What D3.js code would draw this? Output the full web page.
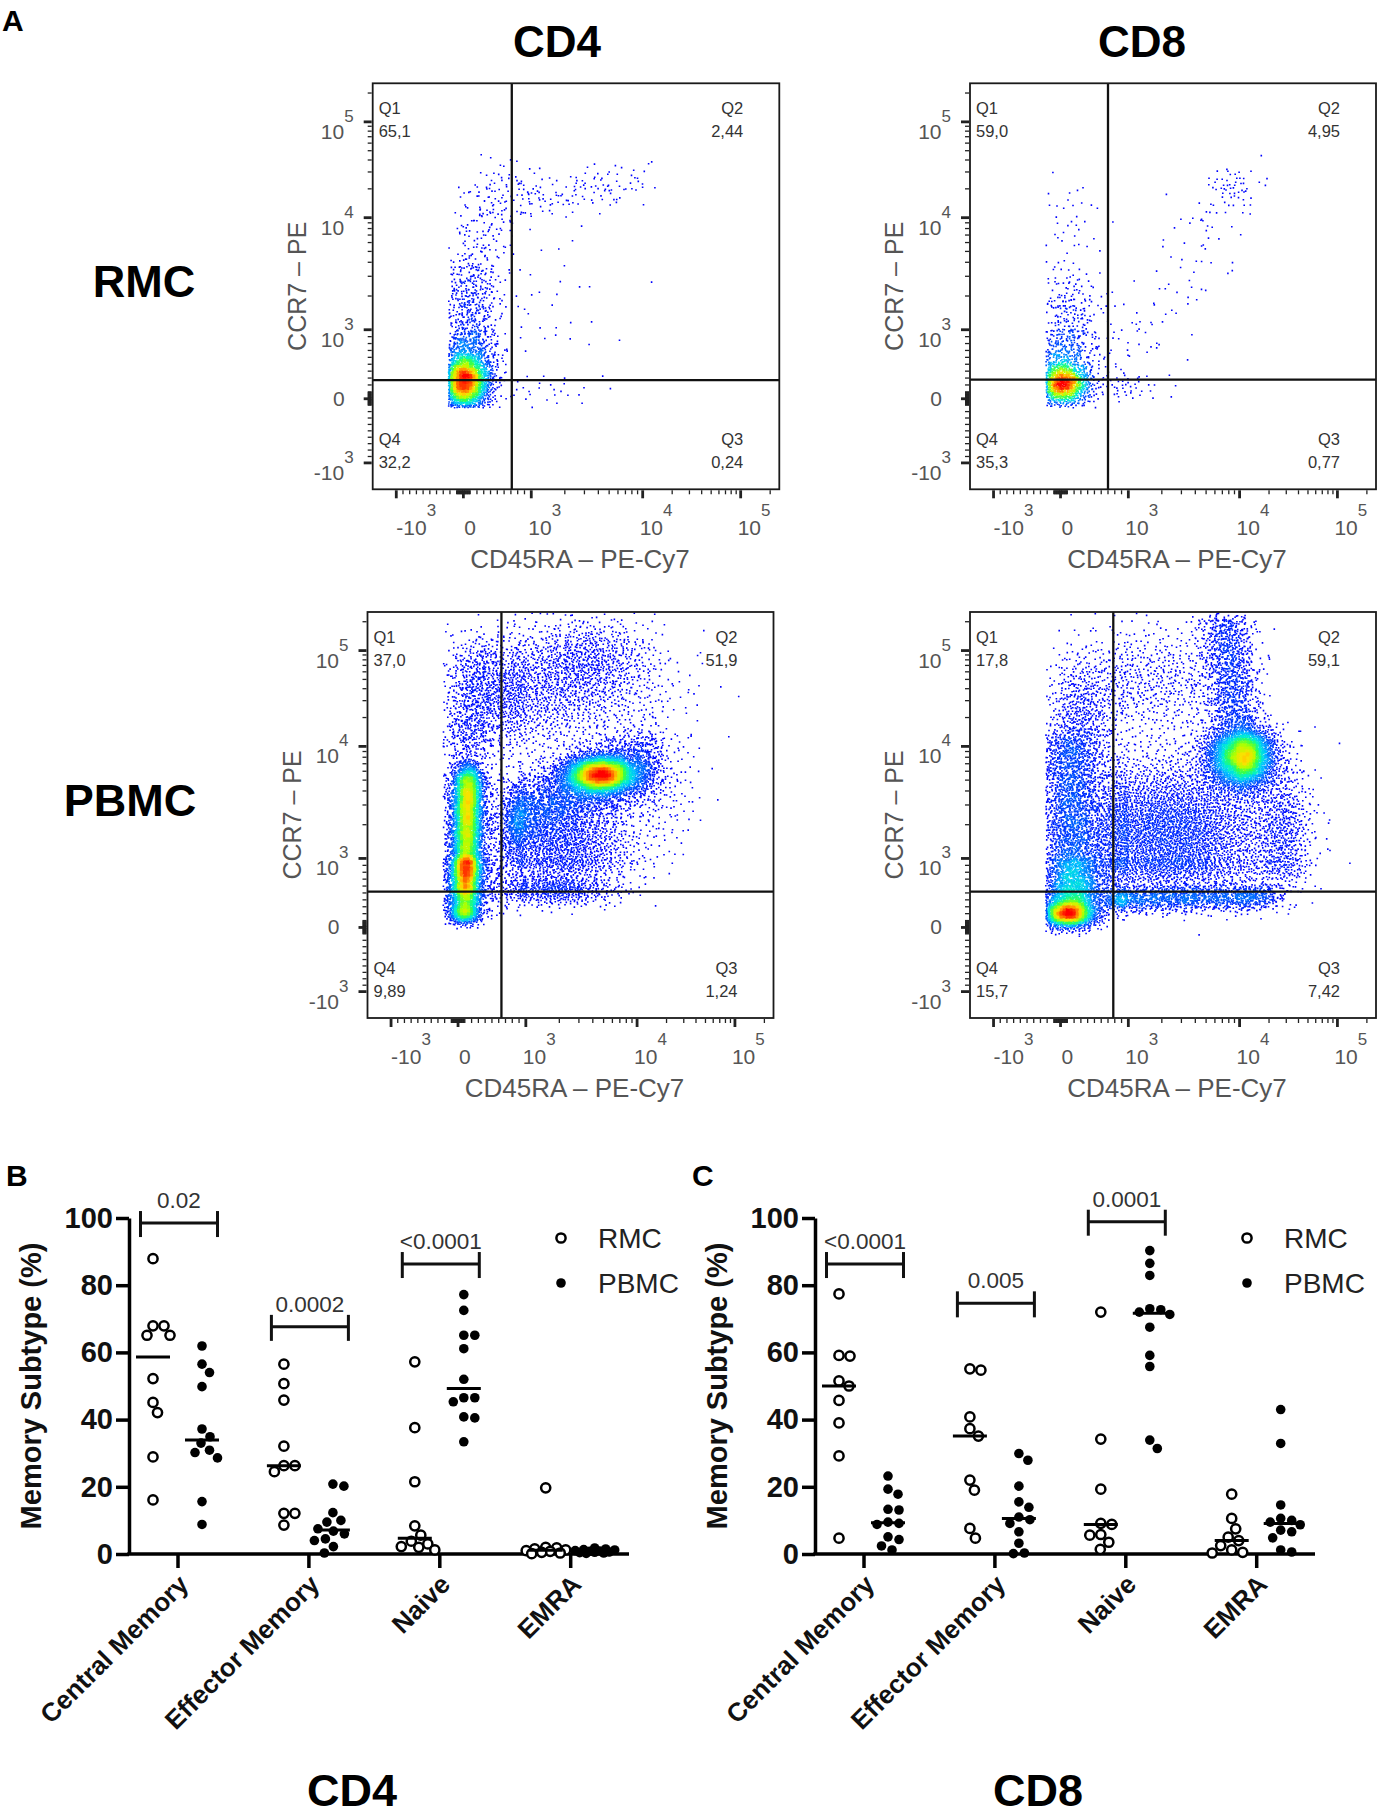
<!DOCTYPE html>
<html><head><meta charset="utf-8">
<script src="https://cdn.jsdelivr.net/npm/d3@7"></script>
<style>
body{margin:0;background:#fff}
svg{display:block}
text{font-family:"Liberation Sans",Arial,Helvetica,sans-serif}
</style></head>
<body><svg id="fig" width="1385" height="1815"></svg>
<script>
// ================= DATA =================
// Panel A : flow cytometry (CCR7 vs CD45RA)
const flowColumns = ["CD4", "CD8"];
const flowRows = ["RMC", "PBMC"];
const quadrantNames = ["Q1", "Q2", "Q3", "Q4"];
const quadrantCD4RMC  = ["65,1", "2,44", "0,24", "32,2"];
const quadrantCD8RMC  = ["59,0", "4,95", "0,77", "35,3"];
const quadrantCD4PBMC = ["37,0", "51,9", "1,24", "9,89"];
const quadrantCD8PBMC = ["17,8", "59,1", "7,42", "15,7"];
// quadrant gates [CD45RA, CCR7] in fluorescence units
const gateCD4RMC  = [713, 270];
const gateCD8RMC  = [700, 276];
const gateCD4PBMC = [640, 518];
const gateCD8PBMC = [778, 518];
const flowMajorTicks = [-1000, 0, 1000, 10000, 100000];
const flowMajorLabels = [["-10", "3"], ["0", ""], ["10", "3"], ["10", "4"], ["10", "5"]];
const flowXTitle = "CD45RA \u2013 PE-Cy7";
const flowYTitle = "CCR7 \u2013 PE";
// event populations:
// [CD45RA start, CCR7 start, CD45RA end, CCR7 end, spread x (decades), spread y (decades), events, skew]
const eventsCD4RMC = [
  [18, 210, 18, 210, 0.2, 0.2, 1800, 1],
  [36, 370, 120, 3490, 0.22, 0.12, 1100, 1.6],
  [120, 3490, 575, 26900, 0.25, 0.15, 180, 1],
  [820, 14800, 9660, 24300, 0.12, 0.12, 130, 1],
  [1260, 1700, 1260, 1700, 0.35, 0.35, 35, 1],
  [1410, 118, 1410, 118, 0.25, 0.12, 25, 1]
];
const eventsCD8RMC = [
  [34, 200, 34, 200, 0.22, 0.16, 1000, 1],
  [34, 370, 120, 2450, 0.25, 0.12, 600, 1.5],
  [120, 7160, 120, 7160, 0.25, 0.3, 50, 1],
  [800, 370, 10700, 26900, 0.2, 0.15, 110, 0.9],
  [8300, 20600, 8300, 20600, 0.1, 0.1, 40, 1],
  [976, 165, 976, 165, 0.2, 0.1, 40, 1]
];
const eventsCD4PBMC = [
  [100, 250, 150, 6000, 0.12, 0.08, 5500, 0.75],
  [110, 300, 160, 5000, 0.32, 0.12, 1300, 1],
  [96, 200, 96, 200, 0.13, 0.08, 500, 1],
  [740, 2070, 14400, 7460, 0.1, 0.17, 3000, 1],
  [4680, 5620, 4680, 5620, 0.17, 0.09, 3000, 1],
  [3680, 83200, 3680, 83200, 0.3, 0.22, 600, 1],
  [1110, 35900, 1110, 35900, 0.6, 0.32, 1600, 1],
  [140, 9060, 317, 109600, 0.22, 0.1, 600, 1.3],
  [2090, 1350, 2090, 1350, 0.35, 0.22, 1500, 1],
  [1800, 550, 1800, 550, 0.3, 0.12, 600, 1],
  [18600, 4370, 18600, 4370, 0.2, 0.3, 150, 1]
];
const eventsCD8PBMC = [
  [120, 200, 120, 200, 0.22, 0.11, 1600, 1],
  [200, 370, 120, 11800, 0.25, 0.1, 3400, 1.3],
  [10700, 8050, 10700, 8050, 0.17, 0.15, 3000, 1],
  [9330, 15500, 7400, 220000, 0.13, 0.06, 1100, 1],
  [2240, 1700, 2240, 1700, 0.5, 0.35, 4000, 1],
  [720, 400, 21400, 450, 0.1, 0.1, 1400, 1],
  [290, 20600, 290, 20600, 0.25, 0.35, 600, 1],
  [1760, 47900, 1760, 47900, 0.4, 0.3, 600, 1],
  [27800, 1700, 27800, 1700, 0.15, 0.35, 600, 1]
];

// Panels B and C : memory subsets (%)
const subsetCategories = ["Central Memory", "Effector Memory", "Naive", "EMRA"];
const sampleGroups = ["RMC", "PBMC"];
const memoryTicks = [0, 20, 40, 60, 80, 100];
const cd4RMC = [
  [87.9, 67.9, 67.9, 65.1, 65.1, 52.2, 45.1, 42.1, 28.9, 16.1],
  [56.5, 50.7, 45.8, 32.1, 26.3, 26.3, 24.5, 12.1, 12.1, 8.6],
  [57.2, 37.6, 21.5, 8.4, 5.6, 3.8, 3.0, 2.2, 2.0, 1.2],
  [19.7, 2.0, 1.8, 1.5, 1.2, 1.0, 0.8, 0.5, 0.3, 0.1]
];
const cd4PBMC = [
  [61.9, 56.5, 54.0, 49.8, 37.2, 34.9, 33.0, 30.9, 30.2, 28.6, 15.6, 8.8],
  [20.8, 20.2, 12.3, 10.0, 9.5, 7.5, 6.8, 6.0, 4.5, 4.0, 2.2, 0.3],
  [77.2, 72.5, 65.1, 65.1, 61.1, 52.0, 46.5, 46.5, 45.3, 40.8, 40.5, 33.4],
  [1.8, 1.5, 1.3, 1.2, 1.0, 0.9, 0.8, 0.6, 0.5, 0.4, 0.3, 0.2]
];
const cd8RMC = [
  [77.4, 59.1, 58.9, 51.5, 50.0, 45.7, 39.0, 29.2, 4.7],
  [55.1, 54.7, 40.8, 37.3, 35.1, 22.0, 19.0, 7.6, 4.7],
  [72.0, 34.2, 19.3, 9.1, 8.8, 5.8, 5.6, 3.5, 1.4],
  [17.8, 10.6, 7.5, 5.0, 4.0, 2.5, 1.2, 0.5, 0.3]
];
const cd8PBMC = [
  [23.2, 19.3, 17.8, 13.3, 13.1, 9.5, 9.1, 8.8, 5.1, 4.3, 2.4, 1.2],
  [29.9, 27.9, 20.2, 15.5, 13.9, 11.0, 10.2, 9.1, 6.6, 3.2, 0.3, 0.1],
  [90.3, 86.5, 82.9, 73.0, 72.7, 72.0, 71.3, 67.5, 59.1, 55.8, 33.9, 31.4],
  [43.0, 32.9, 14.6, 10.6, 10.0, 9.5, 8.7, 7.1, 6.6, 4.8, 1.2, 0.6]
];
const cd4PValues = ["0.02", "0.0002", "<0.0001"];
const cd4BracketLevels = [98.5, 67.6, 86.3];
const cd8PValues = ["<0.0001", "0.005", "0.0001"];
const cd8BracketLevels = [86.3, 74.6, 98.9];

// ================= DRAWING =================
const svg = d3.select("#fig");
const BOLD = "bold";

// --- biexponential display transform (linear around zero, log above 10^3)
function biex(v) { const a = Math.abs(v); return a <= 1000 ? v / 1000 : Math.sign(v) * (1 + Math.log10(a / 1000)); }
const bDomain = [-1, 0, 1, 2, 3, 4];
const xFrac = [0.058, 0.223, 0.390, 0.664, 0.905, 1.146];
const yFrac = [0.935, 0.777, 0.607, 0.331, 0.095, -0.141];

function halton(i, b) { let f = 1, r = 0; while (i > 0) { f /= b; r += f * (i % b); i = Math.floor(i / b); } return r; }
function spreadEvents(pops) {
  const ev = [];
  pops.forEach((p, k) => {
    const [x1, y1, x2, y2, sdx, sdy, n, pw] = p;
    const bx1 = biex(x1), by1 = biex(y1), bx2 = biex(x2), by2 = biex(y2);
    for (let i = 0; i < n; i++) {
      const j = i + 1 + k * 4099;
      const u1 = Math.max(1e-7, halton(j, 2)), u2 = halton(j, 3);
      const rr = Math.sqrt(-2 * Math.log(u1));
      const g1 = rr * Math.cos(2 * Math.PI * u2), g2 = rr * Math.sin(2 * Math.PI * u2);
      const t = Math.pow(halton(j, 5), pw);
      ev.push([bx1 + t * (bx2 - bx1) + sdx * g1, by1 + t * (by2 - by1) + sdy * g2]);
    }
  });
  return ev;
}
const densityColor = d3.piecewise(d3.interpolateRgb,
  ["#0000ff", "#0008ff", "#0030ff", "#0070ff", "#00c0ff", "#00f0d0", "#30ff50", "#b0ff00", "#ffe000", "#ff7000", "#ff0000"]);

let clipCount = 0;
function flowPanel(frame, pops, gate, quads) {
  const g = svg.append("g");
  const bx = d3.scaleLinear().domain(bDomain).range(xFrac.map(f => frame.x + f * frame.w));
  const by = d3.scaleLinear().domain(bDomain).range(yFrac.map(f => frame.y + f * frame.h));
  const X = v => bx(biex(v)), Y = v => by(biex(v));
  const id = "clip" + (clipCount++);
  g.append("clipPath").attr("id", id).append("rect")
    .attr("x", frame.x).attr("y", frame.y).attr("width", frame.w).attr("height", frame.h);

  // events
  const pts = [];
  spreadEvents(pops).forEach(e => {
    if (e[0] < -0.22 || e[1] < -0.14) return;
    const px = bx(e[0]), py = by(e[1]);
    if (px < frame.x + 1 || px > frame.x + frame.w - 2 || py < frame.y + 1 || py > frame.y + frame.h - 2) return;
    pts.push({px, py});
  });
  const cell = 3, gw = Math.ceil(frame.w / cell) + 2, gh = Math.ceil(frame.h / cell) + 2;
  const grid = new Float32Array(gw * gh);
  pts.forEach(p => { p.i = Math.floor((p.px - frame.x) / cell); p.j = Math.floor((p.py - frame.y) / cell); grid[p.j * gw + p.i]++; });
  const sm = new Float32Array(gw * gh);
  for (let j = 1; j < gh - 1; j++) for (let i = 1; i < gw - 1; i++) {
    let s = 0; for (let dj = -1; dj <= 1; dj++) for (let di = -1; di <= 1; di++) s += grid[(j + dj) * gw + i + di];
    sm[j * gw + i] = s;
  }
  let mx = 0; for (let k = 0; k < sm.length; k++) if (sm[k] > mx) mx = sm[k];
  const L = 44, levels = Array.from({length: L}, () => []);
  pts.forEach(p => {
    const t = Math.pow(sm[p.j * gw + p.i] / mx, 0.8);
    levels[Math.min(L - 1, Math.floor(t * L))].push(p);
  });
  const dots = g.append("g").attr("clip-path", `url(#${id})`);
  levels.forEach((arr, k) => {
    if (!arr.length) return;
    let d = "";
    arr.forEach(p => { d += `M${(p.px - 0.8).toFixed(1)},${(p.py - 0.8).toFixed(1)}h1.6v1.6h-1.6z`; });
    dots.append("path").attr("d", d).attr("fill", densityColor(k / (L - 1)));
  });

  // gates
  g.append("line").attr("x1", X(gate[0])).attr("x2", X(gate[0])).attr("y1", frame.y).attr("y2", frame.y + frame.h)
    .attr("stroke", "#111").attr("stroke-width", 2.3);
  g.append("line").attr("x1", frame.x).attr("x2", frame.x + frame.w).attr("y1", Y(gate[1])).attr("y2", Y(gate[1]))
    .attr("stroke", "#111").attr("stroke-width", 2.3);
  // frame
  g.append("rect").attr("x", frame.x).attr("y", frame.y).attr("width", frame.w).attr("height", frame.h)
    .attr("fill", "none").attr("stroke", "#1a1a1a").attr("stroke-width", 1.8);

  // quadrant labels
  const qs = 16.5, qc = "#333";
  const qpos = [
    {x: frame.x + 6, y: frame.y + 31, a: "start"},
    {x: frame.x + frame.w - 36, y: frame.y + 31, a: "end"},
    {x: frame.x + frame.w - 36, y: frame.y + frame.h - 44, a: "end"},
    {x: frame.x + 6, y: frame.y + frame.h - 44, a: "start"}
  ];
  quadrantNames.forEach((q, k) => {
    g.append("text").attr("x", qpos[k].x).attr("y", qpos[k].y).attr("text-anchor", qpos[k].a)
      .attr("font-size", qs).attr("fill", qc).text(q);
    g.append("text").attr("x", qpos[k].x).attr("y", qpos[k].y + 23).attr("text-anchor", qpos[k].a)
      .attr("font-size", qs).attr("fill", qc).text(quads[k]);
  });

  // ticks
  const minor = [...d3.range(-900, 0, 100), ...d3.range(-90, 0, 10), ...d3.range(10, 100, 10), ...d3.range(100, 1000, 100),
    ...d3.range(2000, 10000, 1000), ...d3.range(20000, 100000, 10000), 200000];
  const bot = frame.y + frame.h, left = frame.x;
  const tg = g.append("g").attr("stroke", "#222");
  minor.forEach(v => {
    tg.append("line").attr("x1", X(v)).attr("x2", X(v)).attr("y1", bot + 1).attr("y2", bot + 5).attr("stroke-width", 1.3);
    tg.append("line").attr("y1", Y(v)).attr("y2", Y(v)).attr("x1", left - 1).attr("x2", left - 5).attr("stroke-width", 1.3);
  });
  flowMajorTicks.forEach(v => {
    tg.append("line").attr("x1", X(v)).attr("x2", X(v)).attr("y1", bot + 1).attr("y2", bot + 9).attr("stroke-width", 2.8);
    tg.append("line").attr("y1", Y(v)).attr("y2", Y(v)).attr("x1", left - 1).attr("x2", left - 9).attr("stroke-width", 2.8);
  });
  const lc = "#555";
  flowMajorTicks.forEach((v, k) => {
    const [base, ex] = flowMajorLabels[k];
    // x axis
    const neg = base.startsWith("-");
    const tx = g.append("text").attr("fill", lc).attr("font-size", 21)
      .attr("x", ex ? X(v) - (neg ? 0 : 3) : X(v) + 1).attr("y", bot + 46).attr("text-anchor", "start");
    tx.append("tspan").text(base);
    if (ex) tx.append("tspan").attr("dy", -19).attr("font-size", 17).text(ex);
    // y axis
    const ty = g.append("text").attr("fill", lc).attr("font-size", 21).attr("text-anchor", "end")
      .attr("x", ex ? left - 19 : left - 28).attr("y", ex ? Y(v) + 17 : Y(v) + 7);
    ty.append("tspan").text(base);
    if (ex) ty.append("tspan").attr("dy", -17).attr("font-size", 17).text(ex);
  });
  g.append("text").attr("x", frame.x + frame.w / 2 + 4).attr("y", bot + 79).attr("text-anchor", "middle")
    .attr("font-size", 26).attr("fill", lc).text(flowXTitle);
  g.append("text").attr("transform", `translate(${frame.x - 67},${frame.y + frame.h / 2}) rotate(-90)`)
    .attr("text-anchor", "middle").attr("font-size", 25).attr("fill", lc).text(flowYTitle);
}

// panel A labels
svg.append("text").attr("x", 2).attr("y", 31).attr("font-size", 30).attr("font-weight", BOLD).text("A");
svg.append("text").attr("x", 557).attr("y", 57).attr("text-anchor", "middle").attr("font-size", 44).attr("font-weight", BOLD).text(flowColumns[0]);
svg.append("text").attr("x", 1142).attr("y", 57).attr("text-anchor", "middle").attr("font-size", 44).attr("font-weight", BOLD).text(flowColumns[1]);
svg.append("text").attr("x", 144).attr("y", 297).attr("text-anchor", "middle").attr("font-size", 45).attr("font-weight", BOLD).text(flowRows[0]);
svg.append("text").attr("x", 130).attr("y", 816).attr("text-anchor", "middle").attr("font-size", 45).attr("font-weight", BOLD).text(flowRows[1]);

flowPanel({x: 372.7, y: 83.3, w: 406.6, h: 406}, eventsCD4RMC, gateCD4RMC, quadrantCD4RMC);
flowPanel({x: 970, y: 83.3, w: 406, h: 406}, eventsCD8RMC, gateCD8RMC, quadrantCD8RMC);
flowPanel({x: 367.5, y: 612, w: 406, h: 406}, eventsCD4PBMC, gateCD4PBMC, quadrantCD4PBMC);
flowPanel({x: 970, y: 612, w: 406, h: 406}, eventsCD8PBMC, gateCD8PBMC, quadrantCD8PBMC);

// --- beeswarm layout
function swarm(ys, D, maxOff) {
  const placed = [];
  const order = ys.map((v, i) => i).sort((a, b) => ys[a] - ys[b]);
  const offs = new Array(ys.length);
  const cands = [0];
  for (let s = 0.5; s <= maxOff; s += 0.5) { cands.push(s, -s); }
  order.forEach(i => {
    const y = ys[i];
    let best = null, bestScore = -1;
    for (const c of cands) {
      let md = Infinity;
      for (const p of placed) { const d = Math.hypot(c - p[0], y - p[1]); if (d < md) md = d; }
      if (md >= D) { best = c; bestScore = Infinity; break; }
      if (md > bestScore + 0.5) { bestScore = md; best = c; }
    }
    offs[i] = best; placed.push([best, y]);
  });
  return offs;
}

function memoryChart(left, axisX, rmc, pbmc, pvals, levels, letter, title) {
  const g = svg.append("g");
  const y0 = 1554, y100 = 1218;
  const y = d3.scaleLinear().domain([0, 100]).range([y0, y100]);
  const x = d3.scalePoint().domain(subsetCategories).range([left + 56.5, left + 56.5 + 3 * 130.9]);
  const gx = d3.scalePoint().domain(sampleGroups).range([-24.5, 24.5]);
  const xEnd = left + 508;

  // y axis
  const ya = g.append("g").attr("transform", `translate(${axisX},0)`)
    .call(d3.axisLeft(y).tickValues(memoryTicks).tickSize(13).tickSizeOuter(0).tickPadding(3));
  ya.selectAll("path,line").attr("stroke", "#000").attr("stroke-width", 3.5);
  ya.selectAll("text").attr("font-size", 29).attr("font-weight", BOLD).attr("fill", "#111")
    .style("font-family", '"Liberation Sans",Arial,sans-serif');
  // x axis
  const xa = g.append("g").attr("transform", `translate(0,${y0})`)
    .call(d3.axisBottom(x).tickSize(14).tickSizeOuter(0));
  xa.select(".domain").remove();
  xa.selectAll("line").attr("stroke", "#000").attr("stroke-width", 3.5);
  xa.selectAll("text").attr("x", 0).attr("y", 0).attr("dy", 0).attr("text-anchor", "end")
    .attr("transform", "translate(12,32) rotate(-45)")
    .attr("font-size", 26).attr("font-weight", BOLD).attr("fill", "#111")
    .style("font-family", '"Liberation Sans",Arial,sans-serif');
  g.append("line").attr("x1", axisX - 1.75).attr("x2", xEnd).attr("y1", y0).attr("y2", y0)
    .attr("stroke", "#000").attr("stroke-width", 3.5);

  // points
  const sets = [rmc, pbmc];
  subsetCategories.forEach((cat, ci) => {
    sampleGroups.forEach((grp, gi) => {
      const vals = sets[gi][ci];
      const ys = vals.map(v => y(v));
      const offs = swarm(ys, 11, 20);
      const cx = x(cat) + gx(grp);
      const pg = g.append("g");
      vals.forEach((v, k) => {
        if (gi === 0) pg.append("circle").attr("cx", cx + offs[k]).attr("cy", y(v)).attr("r", 4.6)
          .attr("fill", "#fff").attr("stroke", "#000").attr("stroke-width", 2.5);
        else pg.append("circle").attr("cx", cx + offs[k]).attr("cy", y(v)).attr("r", 4.8).attr("fill", "#000");
      });
      const med = d3.median(vals);
      g.append("line").attr("x1", cx - 17).attr("x2", cx + 17).attr("y1", y(med)).attr("y2", y(med))
        .attr("stroke", "#000").attr("stroke-width", 3);
    });
  });

  // significance brackets
  pvals.forEach((p, k) => {
    const cat = subsetCategories[k];
    const xa1 = x(cat) + gx("RMC") - 12.5, xa2 = x(cat) + gx("PBMC") + 15.5, yy = y(levels[k]);
    const bg = g.append("g").attr("stroke", "#111").attr("stroke-width", 3);
    bg.append("line").attr("x1", xa1).attr("x2", xa2).attr("y1", yy).attr("y2", yy);
    bg.append("line").attr("x1", xa1).attr("x2", xa1).attr("y1", yy - 12).attr("y2", yy + 14);
    bg.append("line").attr("x1", xa2).attr("x2", xa2).attr("y1", yy - 12).attr("y2", yy + 14);
    g.append("text").attr("x", (xa1 + xa2) / 2).attr("y", yy - 15).attr("text-anchor", "middle")
      .attr("font-size", 22.5).attr("fill", "#333").text(p);
  });

  // legend
  const lx = left + 440;
  g.append("circle").attr("cx", lx).attr("cy", 1238).attr("r", 4.6).attr("fill", "#fff").attr("stroke", "#000").attr("stroke-width", 2.5);
  g.append("circle").attr("cx", lx).attr("cy", 1283).attr("r", 4.8).attr("fill", "#000");
  g.append("text").attr("x", lx + 37).attr("y", 1248).attr("font-size", 28).attr("fill", "#222").text(sampleGroups[0]);
  g.append("text").attr("x", lx + 37).attr("y", 1293).attr("font-size", 28).attr("fill", "#222").text(sampleGroups[1]);

  // titles
  g.append("text").attr("transform", `translate(${left - 80},1386) rotate(-90)`).attr("text-anchor", "middle")
    .attr("font-size", 29).attr("font-weight", BOLD).attr("fill", "#111").text("Memory Subtype (%)");
  g.append("text").attr("x", left - 115).attr("y", 1186).attr("font-size", 30).attr("font-weight", BOLD).text(letter);
  g.append("text").attr("x", left + 231).attr("y", 1806).attr("text-anchor", "middle")
    .attr("font-size", 45).attr("font-weight", BOLD).text(title);
}

memoryChart(121, 129, cd4RMC, cd4PBMC, cd4PValues, cd4BracketLevels, "B", "CD4");
memoryChart(807, 815, cd8RMC, cd8PBMC, cd8PValues, cd8BracketLevels, "C", "CD8");
</script>
</body></html>
